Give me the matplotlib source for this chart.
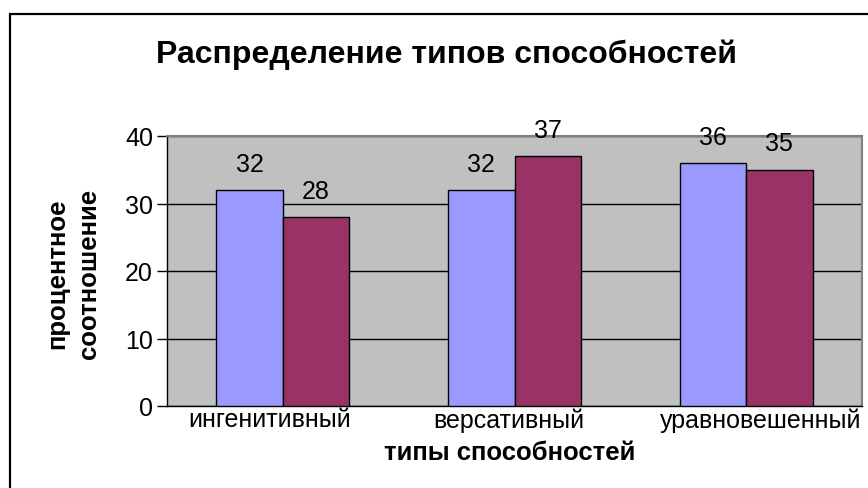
import numpy as np
import matplotlib.pyplot as plt
import matplotlib.transforms as mtransforms
from matplotlib.patches import Rectangle

plt.rcParams['font.family'] = ['Liberation Sans', 'DejaVu Sans']

categories = ['ингенитивный', 'версативный', 'уравновешенный']
series_1 = [32, 32, 36]
series_2 = [28, 37, 35]
y_ticks = [0, 10, 20, 30, 40]

fig = plt.figure(figsize=(8.68, 4.89), dpi=100)
ax = fig.add_axes([167 / 868, 1 - 407 / 489, 695 / 868, (407 - 137) / 489])

# рамка вокруг всей диаграммы
fig.patches.append(Rectangle((10 / 868, -0.1), 1.2, 0.1 + (489 - 15) / 489,
                             transform=fig.transFigure, fill=False,
                             edgecolor='black', linewidth=1.6))

x = np.arange(len(categories))
w = 0.287
b1 = ax.bar(x - w / 2, series_1, w, color='#9999FF', edgecolor='black', linewidth=1.0, zorder=3)
b2 = ax.bar(x + w / 2, series_2, w, color='#993366', edgecolor='black', linewidth=1.0, zorder=3)

for bars, vals in ((b1, series_1), (b2, series_2)):
    for r, v in zip(bars, vals):
        ax.annotate(str(v), (r.get_x() + r.get_width() / 2, v), xytext=(0, 19),
                    textcoords='offset points', ha='center', va='center', fontsize=18)

ax.set_facecolor('#C0C0C0')
ax.set_xlim(-0.5, 2.5)
ax.set_ylim(0, 40)
ax.set_yticks(y_ticks)
ax.set_xticks(x)
ax.set_xticklabels(categories)
ax.tick_params(axis='y', direction='out', length=7, width=1, labelsize=18, pad=3)
ax.tick_params(axis='x', length=0, labelsize=18, pad=1)
ax.yaxis.grid(True, color='black', linewidth=1.0, zorder=1)
ax.set_axisbelow(True)

# подписи категорий чуть сдвинуты, как в исходной диаграмме
for lbl, dx in zip(ax.get_xticklabels(), (-13, -6, 14)):
    lbl.set_transform(lbl.get_transform() + mtransforms.ScaledTranslation(dx / 100, 0, fig.dpi_scale_trans))

for s in ('top', 'right'):
    ax.spines[s].set_color('#808080')
    ax.spines[s].set_linewidth(1.5)
for s in ('left', 'bottom'):
    ax.spines[s].set_color('black')
    ax.spines[s].set_linewidth(1.0)

fig.text(510 / 868, 1 - 453 / 489, 'типы способностей', ha='center', va='center',
         fontsize=18.5, fontweight='bold')
fig.text(73 / 868, 1 - 274 / 489, 'процентное\nсоотношение', ha='center', va='center',
         rotation=90, fontsize=18.5, fontweight='bold', linespacing=1.4)
fig.text(447 / 868, 1 - 55 / 489, 'Распределение типов способностей', ha='center',
         va='center', fontsize=23, fontweight='bold')

fig.savefig('out.png', dpi=100)
